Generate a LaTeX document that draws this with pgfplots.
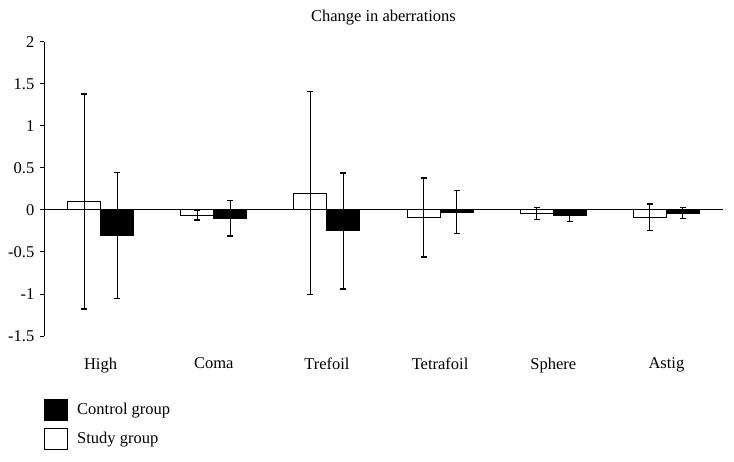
\documentclass[border=0pt]{standalone}
\usepackage{pgfplots}
\pgfplotsset{compat=1.18}
\usepackage{fontspec}
\setmainfont{Liberation Serif}
\pgfplotstableread{
x y e
-0.1458 0.10 1.28
0.8542 -0.065 0.055
1.8542 0.20 1.21
2.8542 -0.09 0.47
3.8542 -0.04 0.07
4.8542 -0.087 0.16
}\study
\pgfplotstableread{
x y e
0.1458 -0.30 0.75
1.1458 -0.10 0.21
2.1458 -0.25 0.69
3.1458 -0.025 0.255
4.1458 -0.07 0.07
5.1458 -0.036 0.065
}\control
\begin{document}
\begin{tikzpicture}
\fontsize{16.5}{19}\selectfont
\path (0,0) rectangle (734pt,461pt);
\begin{axis}[
 at={(44pt,125pt)}, anchor=south west,
 scale only axis, width=679pt, height=294pt,
 xmin=-0.5, xmax=5.5, ymin=-1.5, ymax=2,
 axis x line=bottom, axis y line=left,
 x axis line style={draw=none},
 y axis line style={-, line width=1pt},
 ytick={-1.5,-1,-0.5,0,0.5,1,1.5,2},
 yticklabels={-1.5,-1,-0.5,0,0.5,1,1.5,2},
 tick align=outside, major tick length=4pt,
 y tick style={black, line width=1pt},
 xtick={0,1,2,3,4,5},
 xticklabels={High,Coma,Trefoil,Tetrafoil,Sphere,Astig},
 x tick style={draw=none},
 xticklabel style={yshift=-12pt},
 tick label style={font=\fontsize{16.5}{19}\selectfont},
 title={Change in aberrations},
 title style={at={(0.5,1)}, anchor=south, yshift=5pt, font=\fontsize{16.5}{19}\selectfont},
 legend style={at={(rel axis cs:0,-0.214)}, anchor=north west, draw=none, fill=none,
   row sep=6.5pt, inner sep=0pt, font=\fontsize{16.5}{19}\selectfont,
   nodes={inner xsep=9pt}},
 legend cell align=left,
 clip=false,
]
\addlegendimage{legend image code/.code={\draw[fill=black,line width=1pt] (0pt,-10.5pt) rectangle (23pt,10.5pt);}}
\addlegendentry{Control group}
\addlegendimage{legend image code/.code={\draw[fill=white,line width=1pt] (0pt,-10.5pt) rectangle (23pt,10.5pt);}}
\addlegendentry{Study group}
\addplot[ybar, bar width=33pt, bar shift=0pt, draw=black, fill=white, line width=1pt, forget plot,
  error bars/.cd, y dir=both, y explicit,
  error bar style={line width=1pt, black},
  error mark options={rotate=90, mark size=3pt, line width=1.3pt, black}]
  table[x=x, y=y, y error=e]{\study};
\addplot[ybar, bar width=33pt, bar shift=0pt, draw=black, fill=black, line width=1pt, forget plot,
  error bars/.cd, y dir=both, y explicit,
  error bar style={line width=1pt, black},
  error mark options={rotate=90, mark size=3pt, line width=1.3pt, black}]
  table[x=x, y=y, y error=e]{\control};
\addplot[black, line width=1pt, forget plot, mark=none] coordinates {(-0.5,0) (5.5,0)};
\end{axis}
\end{tikzpicture}
\end{document}
